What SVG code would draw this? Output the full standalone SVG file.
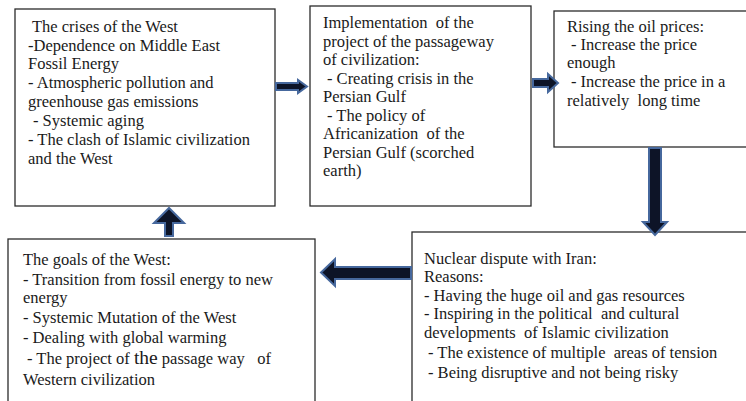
<svg xmlns="http://www.w3.org/2000/svg" width="746" height="401" viewBox="0 0 746 401">
  <style>
    .box { fill: #ffffff; stroke: #2b2b2b; stroke-width: 1.3; }
    .lbl { font-family: 'Liberation Serif', 'Times New Roman', serif; font-size: 16.5px; fill: #1a1a1a; }
    .big { font-size: 19.5px; }
    .arrow { fill: #0d1427; stroke: #46689d; stroke-width: 2; stroke-linejoin: miter; }
  </style>
  <rect width="746" height="401" fill="#ffffff"/>

  <!-- Crises of the West -->
  <g id="crises">
    <rect class="box" x="15" y="9" width="260" height="197"/>
    <text class="lbl" x="32" y="32">The crises of the West</text>
    <text class="lbl" x="28" y="51">-Dependence on Middle East</text>
    <text class="lbl" x="28" y="69">Fossil Energy</text>
    <text class="lbl" x="28" y="88">- Atmospheric pollution and</text>
    <text class="lbl" x="28" y="107">greenhouse gas emissions</text>
    <text class="lbl" x="33" y="126">- Systemic aging</text>
    <text class="lbl" x="28" y="145">- The clash of Islamic civilization</text>
    <text class="lbl" x="28" y="164">and the West</text>
  </g>

  <!-- Implementation of the passageway project -->
  <g id="implementation">
    <rect class="box" x="310" y="6" width="221" height="200"/>
    <text class="lbl" x="323" y="28" xml:space="preserve">Implementation  of the</text>
    <text class="lbl" x="323" y="47">project of the passageway</text>
    <text class="lbl" x="323" y="65">of civilization:</text>
    <text class="lbl" x="327" y="84">- Creating crisis in the</text>
    <text class="lbl" x="323" y="102">Persian Gulf</text>
    <text class="lbl" x="327" y="121">- The policy of</text>
    <text class="lbl" x="323" y="139" xml:space="preserve">Africanization  of the</text>
    <text class="lbl" x="323" y="158">Persian Gulf (scorched</text>
    <text class="lbl" x="323" y="176">earth)</text>
  </g>

  <!-- Rising oil prices (box runs off the right edge) -->
  <g id="oil-prices">
    <rect class="box" x="554" y="11" width="200" height="136"/>
    <text class="lbl" x="567" y="32">Rising the oil prices:</text>
    <text class="lbl" x="571" y="50">- Increase the price</text>
    <text class="lbl" x="567" y="68">enough</text>
    <text class="lbl" x="571" y="87">- Increase the price in a</text>
    <text class="lbl" x="567" y="106" xml:space="preserve">relatively  long time</text>
  </g>

  <!-- Nuclear dispute with Iran -->
  <g id="nuclear-dispute">
    <rect class="box" x="412" y="232" width="340" height="180"/>
    <text class="lbl" x="424" y="264">Nuclear dispute with Iran:</text>
    <text class="lbl" x="424" y="282">Reasons:</text>
    <text class="lbl" x="424" y="301">- Having the huge oil and gas resources</text>
    <text class="lbl" x="424" y="319" xml:space="preserve">- Inspiring in the political  and cultural</text>
    <text class="lbl" x="424" y="338" xml:space="preserve">developments  of Islamic civilization</text>
    <text class="lbl" x="428" y="358" xml:space="preserve">- The existence of multiple  areas of tension</text>
    <text class="lbl" x="428" y="378">- Being disruptive and not being risky</text>
  </g>

  <!-- Goals of the West -->
  <g id="goals">
    <rect class="box" x="8" y="239" width="307" height="180"/>
    <text class="lbl" x="23" y="265">The goals of the West:</text>
    <text class="lbl" x="23" y="285">- Transition from fossil energy to new</text>
    <text class="lbl" x="23" y="303">energy</text>
    <text class="lbl" x="23" y="323">- Systemic Mutation of the West</text>
    <text class="lbl" x="23" y="343">- Dealing with global warming</text>
    <text class="lbl" x="27" y="364" xml:space="preserve">- The project of <tspan class="big">the</tspan> passage way   of</text>
    <text class="lbl" x="23" y="385">Western civilization</text>
  </g>

  <!-- Block arrows between the stages -->
  <g id="connectors">
    <path class="arrow" d="M276 83 H298 V80 L307 86.5 L298 93 V90 H276 Z"/>
    <path class="arrow" d="M533 79 H548 V74 L558 83 L548 92 V87 H533 Z"/>
    <path class="arrow" d="M649 148 H661 V222 H667 L655 235 L643 222 H649 Z"/>
    <path class="arrow" d="M411 267 H335 V259 L321 272.5 L335 286 V279 H411 Z"/>
    <path class="arrow" d="M165 236 V223 H154 L169 208 L184 223 H173 V236 Z"/>
  </g>
</svg>
